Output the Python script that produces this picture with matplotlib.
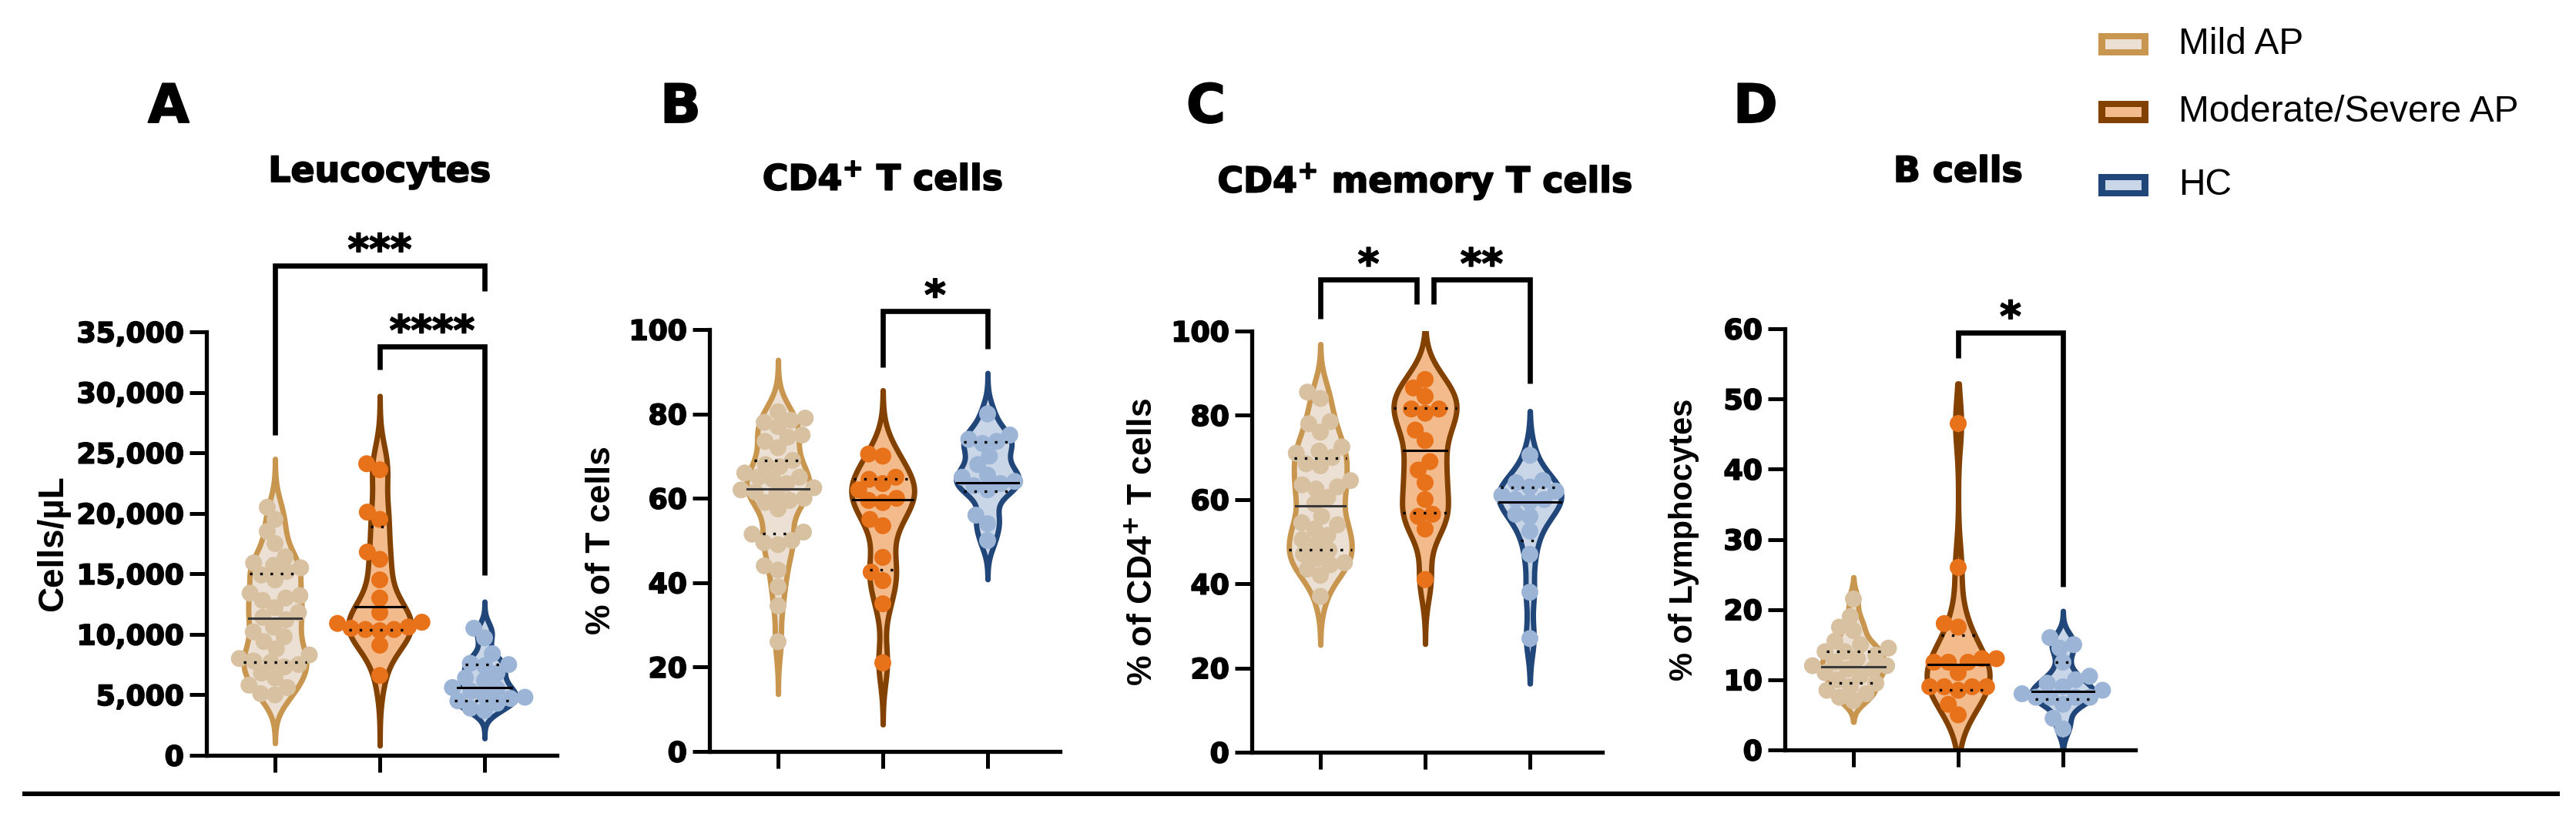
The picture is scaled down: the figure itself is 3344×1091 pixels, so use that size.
import numpy as np
import matplotlib.pyplot as plt
import matplotlib.patheffects as pe
from matplotlib.lines import Line2D
from matplotlib.patches import Rectangle

W, H, DPI = 3344, 1091, 100

# ---------------- data ----------------
groups = ['Mild AP', 'Moderate/Severe AP', 'HC']

# A: Leucocytes (cells/uL)
leuco_mild = [5000, 5100, 5600, 5800, 6400, 6800, 7300, 7500, 7700, 7800, 8000, 8300,
              8800, 9400, 9800, 10200, 10600, 11200, 11400, 11800, 12200, 12800, 13000,
              13200, 13400, 14500, 14900, 15200, 15500, 15700, 15900, 16400, 17500,
              18500, 19500, 20500]
leuco_mod = [24100, 23600, 20100, 19500, 16800, 16200, 14500, 13000, 11800, 11000,
             10900, 10600, 10500, 10400, 10400, 10300, 9100, 6600]
leuco_hc = [10500, 9700, 8400, 7600, 7500, 7400, 6800, 6400, 6200, 5600, 5500, 5300,
            4900, 4800, 4700, 4500, 4300, 3900, 3700]
leuco_q1 = [7700, 10400, 4500]
leuco_med = [11300, 12300, 5600]
leuco_q3 = [15000, 18900, 7500]
leuco_lo = [1000, 800, 1400]
leuco_hi = [24500, 29700, 12700]

# B: CD4+ T cells (% of T cells)
cd4_mild = [80.5, 79, 78.5, 78, 77, 75, 74.5, 73.5, 72, 69, 68, 67.5, 66, 65, 65, 64.5,
            63.5, 62.5, 62, 61.5, 61, 60, 59.5, 59, 57.5, 52, 51.5, 50, 49.5, 49, 44, 43,
            39, 34.5, 26]
cd4_mod = [70.5, 70, 65, 64.5, 63.5, 62, 60, 59.5, 59, 55, 53.5, 46, 42.5, 40.5, 35, 21]
cd4_hc = [80, 75, 74, 73.5, 73, 70, 68, 65.5, 65, 64, 63.5, 63, 62, 56, 54, 50]
cd4_q1 = [51.6, 43, 61.6]
cd4_med = [62.3, 59.6, 63.7]
cd4_q3 = [69, 64.6, 73.4]
cd4_lo = [13.6, 6.4, 40.8]
cd4_hi = [92.8, 85.6, 89.7]

# C: CD4+ memory T cells (% of CD4+ T cells)
mem_mild = [85.5, 84, 78.5, 78, 76, 72.5, 71.5, 71, 70, 68.5, 68, 64.5, 63.5, 63, 62.5,
            60.5, 59, 56, 54.5, 54, 53, 51.5, 50.5, 49.5, 48, 47, 46, 45, 44.5, 43.5, 42, 37]
mem_mod = [88.5, 86.5, 84.5, 81.5, 81.5, 80.5, 76.5, 74, 69, 67, 64, 60, 56.5, 56, 53, 41]
mem_hc = [70.5, 64.5, 64, 63, 62, 61, 60, 60, 59.5, 56.5, 56, 52.5, 47, 38, 27]
mem_q1 = [48, 56.8, 50.2]
mem_med = [58.5, 71.7, 59.5]
mem_q3 = [69.8, 81.7, 62.9]
mem_lo = [25.5, 25.7, 16.3]
mem_hi = [96.9, 100, 81]

# D: B cells (% of lymphocytes)
bcell_mild = [21.5, 19, 17.5, 17, 15.5, 15, 14.5, 14, 14, 13.5, 13, 12.5, 12, 12, 11.5,
              11.5, 11, 10.5, 10, 9.5, 9, 8.5, 8, 7.5, 7]
bcell_mod = [46.5, 26, 18, 17.5, 13, 13, 12.5, 12.5, 12.5, 11, 9, 9, 9, 9, 8.5, 6.5, 5]
bcell_hc = [16, 15, 14.5, 12.5, 10.5, 10, 9.5, 9, 8.5, 8, 7.5, 7.5, 7.5, 7.5, 6.5, 4.5, 3]
bcell_q1 = [9.5, 8.6, 7.2]
bcell_med = [11.8, 12.2, 8.3]
bcell_q3 = [14, 16.3, 12.5]
bcell_lo = [4, 0, 0]
bcell_hi = [24.6, 52.2, 19.8]

# significance brackets: (x1, x2, top, left leg end, right leg end, label)
leuco_sig = [(0, 2, 40500, 26450, 38400, '***'), (1, 2, 33800, 31900, 14900, '****')]
cd4_sig = [(1, 2, 104.4, 91, 95.4, '*')]
mem_sig = [(0, 0.92, 112.2, 103, 106.4, '*'), (1.08, 2, 112.2, 106.4, 87.6, '**')]
bcell_sig = [(1, 2, 59.5, 55.8, 23.2, '*')]

# ---------------- styling ----------------
edge_colors = ['#C8964F', '#834100', '#21467A']
fill_colors = ['#EBE0D3', '#F3BA8C', '#C9D6E8']
dot_colors = ['#D8C1A1', '#E8721A', '#9CB5D7']
median_colors = ['#3a3a3a', 'black', 'black']

plt.rcParams['font.family'] = 'DejaVu Sans'
plt.rcParams['font.weight'] = 'bold'
heavy = [pe.withStroke(linewidth=1.3, foreground='black')]

panels = [
    dict(letter='A', title='Leucocytes', ylabel='Cells/µL', ylab_size=33,
         data=[leuco_mild, leuco_mod, leuco_hc], q1=leuco_q1, med=leuco_med, q3=leuco_q3,
         lo=leuco_lo, hi=leuco_hi, sig=leuco_sig, ymax=35000, ystep=5000, comma=True,
         left=268, top=431, bottom=981, ylab_x=69, title_y=236, letter_x=192),
    dict(letter='B', title='CD4$^{\\mathbf{+}}$ T cells', ylabel='% of T cells', ylab_size=32,
         data=[cd4_mild, cd4_mod, cd4_hc], q1=cd4_q1, med=cd4_med, q3=cd4_q3,
         lo=cd4_lo, hi=cd4_hi, sig=cd4_sig, ymax=100, ystep=20, comma=False,
         left=921, top=428, bottom=976, ylab_x=781, title_y=247, letter_x=857),
    dict(letter='C', title='CD4$^{\\mathbf{+}}$ memory T cells',
         ylabel='% of CD4$^{\\mathbf{+}}$ T cells', ylab_size=32,
         data=[mem_mild, mem_mod, mem_hc], q1=mem_q1, med=mem_med, q3=mem_q3,
         lo=mem_lo, hi=mem_hi, sig=mem_sig, ymax=100, ystep=20, comma=False,
         left=1625, top=430, bottom=977, ylab_x=1485, title_y=250, letter_x=1540),
    dict(letter='D', title='B cells', ylabel='% of Lymphocytes', ylab_size=30,
         data=[bcell_mild, bcell_mod, bcell_hc], q1=bcell_q1, med=bcell_med, q3=bcell_q3,
         lo=bcell_lo, hi=bcell_hi, sig=bcell_sig, ymax=60, ystep=10, comma=False,
         left=2317, top=427, bottom=974, ylab_x=2186, title_y=236, letter_x=2250),
]

AX_W = 455          # axes width in pixels
UNIT_X = 136        # pixels between categories
HALF_W = 0.30       # max half width of a violin (x units)
DOT = 22            # dot diameter in pixels


def kde_width(vals, grid, bw_scale=0.6):
    v = np.asarray(vals, float)
    bw = bw_scale * 1.06 * v.std(ddof=1) * len(v) ** -0.2
    dens = np.exp(-0.5 * ((grid[:, None] - v[None, :]) / bw) ** 2).sum(axis=1)
    return dens / dens.max() * HALF_W


def swarm(vals, px_per_unit, diam):
    # simple beeswarm in pixel space, returns x offsets in category units
    ys = np.asarray(vals, float) * px_per_unit
    xs = np.zeros(len(ys))
    placed = []
    for i in np.argsort(ys):
        y = ys[i]
        cands = [0.0]
        for py, px in placed:
            dy = abs(y - py)
            if dy < diam:
                dx = np.sqrt(diam ** 2 - dy ** 2)
                cands += [px - dx, px + dx]
        cands.sort(key=abs)
        for c in cands:
            if all((c - px) ** 2 + (y - py) ** 2 >= diam ** 2 - 1e-6 for py, px in placed):
                xs[i] = c
                break
        placed.append((y, xs[i]))
    return xs / UNIT_X


fig = plt.figure(figsize=(W / DPI, H / DPI), dpi=DPI)

for p in panels:
    l, t, b = p['left'], p['top'], p['bottom']
    ax = fig.add_axes([l / W, 1 - b / H, AX_W / W, (b - t) / H])
    x_lo = -89 / UNIT_X
    ax.set_xlim(x_lo, x_lo + AX_W / UNIT_X)
    ax.set_ylim(0, p['ymax'])
    px_per_unit = (b - t) / p['ymax']

    for i, vals in enumerate(p['data']):
        grid = np.linspace(p['lo'][i], p['hi'][i], 400)
        w = kde_width(vals, grid)
        ax.fill_betweenx(grid, i - w, i + w, facecolor=fill_colors[i],
                         edgecolor=edge_colors[i], linewidth=5, joinstyle='round', zorder=2)
        offs = swarm(vals, px_per_unit, DOT * 0.85)
        ax.scatter(i + offs, vals, s=(DOT * 0.72) ** 2, color=dot_colors[i],
                   edgecolors='none', zorder=3)
        wm = np.interp(p['med'][i], grid, w)
        ax.plot([i - wm, i + wm], [p['med'][i]] * 2, color=median_colors[i], lw=2.2, zorder=4)
        for q in (p['q1'][i], p['q3'][i]):
            wq = np.interp(q, grid, w)
            ax.plot([i - wq, i + wq], [q, q], color='black', lw=2.4,
                    linestyle=(0, (1, 3)), zorder=4)

    for x1, x2, top, yl, yr, lab in p['sig']:
        ax.plot([x1, x1, x2, x2], [yl, top, top, yr], color='black', lw=4.8,
                clip_on=False, solid_joinstyle='miter', solid_capstyle='butt')
        ax.annotate(lab, xy=((x1 + x2) / 2, top), xytext=(0, 2), textcoords='offset points',
                    ha='center', va='baseline', fontsize=38, fontweight='bold',
                    annotation_clip=False, path_effects=heavy)

    for side in ('top', 'right'):
        ax.spines[side].set_visible(False)
    for side in ('left', 'bottom'):
        ax.spines[side].set_linewidth(3.8)
    yt = np.arange(0, p['ymax'] + 1, p['ystep'])
    ax.set_yticks(yt)
    ax.set_yticklabels([f'{v:,}' if p['comma'] else f'{v}' for v in yt])
    ax.set_xticks([0, 1, 2])
    ax.set_xticklabels([])
    ax.tick_params(axis='both', length=16, width=3.6, labelsize=26, pad=5)
    for lbl in ax.get_yticklabels():
        lbl.set_path_effects(heavy)
    ax.patch.set_alpha(0)

    cx = l + 89 + UNIT_X
    fig.text(cx / W, 1 - p['title_y'] / H, p['title'], ha='center', va='baseline',
             fontsize=33, fontweight='bold', path_effects=heavy)
    fig.text(p['letter_x'] / W, 1 - 159 / H, p['letter'], ha='left', va='baseline',
             fontsize=50, fontweight='bold', path_effects=heavy)
    fig.text(p['ylab_x'] / W, 1 - (t + b) / 2 / H, p['ylabel'], rotation=90,
             ha='center', va='center', fontsize=p['ylab_size'], fontweight='bold',
             family='Liberation Sans')

# legend
leg_y = [57.5, 145.5, 240]
for i, g in enumerate(groups):
    y0 = leg_y[i] - 14.5
    fig.add_artist(Rectangle((2724 / W, 1 - (y0 + 29) / H), 65 / W, 29 / H,
                             transform=fig.transFigure, facecolor=edge_colors[i],
                             edgecolor='none'))
    fig.add_artist(Rectangle((2733 / W, 1 - (y0 + 21) / H), 47 / W, 13 / H,
                             transform=fig.transFigure, facecolor=fill_colors[i],
                             edgecolor='none'))
    fig.text(2828 / W, 1 - leg_y[i] / H, g, ha='left', va='center', fontsize=34.5,
             fontweight='normal', family='Liberation Sans')

# bottom rule
fig.add_artist(Line2D([32 / W, 3320 / W], [1 - 1031 / H] * 2, transform=fig.transFigure,
                      color='black', lw=4.3))

fig.savefig('out.png', dpi=DPI)
